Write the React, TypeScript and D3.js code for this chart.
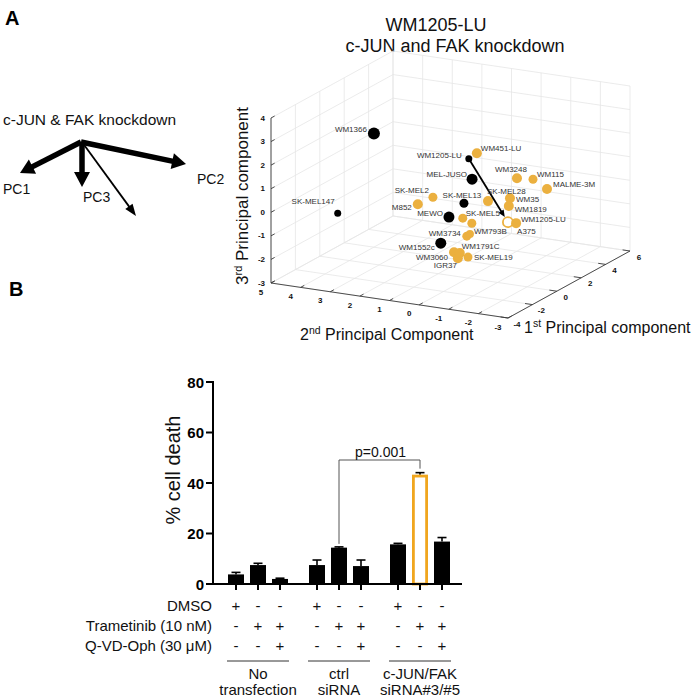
import React from "react";
import * as d3 from "d3";

// ---------------- Panel A data (PCA scores) ----------------
const cellLines = [
  "WM1366", "SK-MEL147", "WM1205-LU", "MEL-JUSO", "SK-MEL2", "M852", "MEWO",
  "SK-MEL13", "WM451-LU", "WM3248", "WM115", "MALME-3M", "SK-MEL28", "WM35",
  "WM1819", "WM1205-LU", "A375", "SK-MEL5", "", "WM3734", "WM793B", "WM1552c",
  "WM3060", "IGR37", "WM1791C", "SK-MEL19",
];
const pc1Scores = [-2, -3, 0, 0, -1, -1, 0, 0.5, 1, 3, 4, 5, 1.5, 2.5, 2.5, 2.5, 3, 0.5, 1, 1, 1.5, -0.5, 0, 0, 0.5, 1];
const pc2Scores = [2.35, 3.16, -0.03, -0.14, 0.77, 1.28, 0.64, 0.34, 0.11, -0.42, -0.55, -0.61, -0.06, -0.39, -0.35, -0.32, -0.39, 0.38, 0.28, 0.45, 0.55, 0.71, 0.47, 0.34, 0.48, 0.41];
const pc3Scores = [3.27, 0.02, 2.07, 1.22, 0.57, 0.18, -0.53, -0.03, 1.99, 0.46, 0.16, -0.53, -0.15, -0.25, -0.59, -1.28, -1.45, -0.67, -1.01, -1.59, -1.66, -1.51, -1.99, -2.22, -2.17, -2.47];
const lineGroup = [
  "other", "other", "other", "other", "target", "target", "other",
  "other", "target", "target", "target", "target", "target", "target",
  "target", "knockdown", "target", "target", "target", "target", "target", "other",
  "target", "target", "target", "target",
];
const markerSize = [6, 3.5, 3.5, 5.5, 4.5, 5, 5.5, 4.5, 5, 5, 4.5, 5, 5, 5, 5, 5, 5, 4.5, 4.5, 4.5, 4, 5.5, 5, 5, 5, 4.5];

const pc1Ticks = [-4, -2, 0, 2, 4, 6];
const pc2Ticks = [-3, -2, -1, 0, 1, 2, 3, 4, 5];
const pc3Ticks = [-3, -2, -1, 0, 1, 2, 3, 4];

// ---------------- Panel B data ----------------
const transfections = ["No transfection", "ctrl siRNA", "c-JUN/FAK siRNA#3/#5"];
const treatments = ["DMSO", "Trametinib", "Trametinib + Q-VD-Oph"];
const meanNoTransfection = [3.8, 7.5, 2.0];
const meanCtrl = [7.5, 14.4, 7.1];
const meanKnockdown = [15.7, 43.3, 16.8];
const semNoTransfection = [0.8, 0.7, 0.3];
const semCtrl = [2.0, 0.3, 2.4];
const semKnockdown = [0.4, 0.8, 1.6];
const dmsoSigns = ["+", "-", "-"];
const trametinibSigns = ["-", "+", "+"];
const qvdSigns = ["-", "-", "+"];
const rowLabels = ["DMSO", "Trametinib (10 nM)", "Q-VD-Oph (30 μM)"];
const groupLabelLines = [["No", "transfection"], ["ctrl", "siRNA"], ["c-JUN/FAK", "siRNA#3/#5"]];
const yTicks = [0, 20, 40, 60, 80];
const pValueText = "p=0.001";

// ---------------- layout helpers ----------------
const ORANGE = "#EBB03F";
const BAR_ORANGE = "#F0A61E";
const FONT = "'Liberation Sans', Arial, Helvetica, sans-serif";

const labelLayout: ({ a: "start" | "end" | "middle"; dx: number; dy: number } | null)[] = [
  { a: "end", dx: -7, dy: -4 },
  { a: "end", dx: -3, dy: -12 },
  { a: "end", dx: -7, dy: -3 },
  { a: "end", dx: -5, dy: -5 },
  { a: "end", dx: -4, dy: -7 },
  { a: "end", dx: -6, dy: 3 },
  { a: "end", dx: -6, dy: -4 },
  { a: "middle", dx: -2, dy: -8 },
  { a: "start", dx: 4, dy: -5 },
  { a: "end", dx: 10, dy: -9 },
  { a: "start", dx: 4, dy: -5 },
  { a: "start", dx: 6, dy: -5 },
  { a: "start", dx: -1, dy: -10 },
  { a: "start", dx: 6, dy: 1 },
  { a: "start", dx: 6, dy: 3 },
  { a: "start", dx: 13, dy: -3 },
  { a: "start", dx: 1, dy: 8 },
  { a: "start", dx: 3, dy: -5 },
  null,
  { a: "end", dx: -6, dy: -3 },
  { a: "start", dx: 4, dy: -3 },
  { a: "end", dx: -6, dy: 4 },
  { a: "end", dx: -6, dy: 5 },
  { a: "end", dx: -1, dy: 7 },
  { a: "start", dx: 2, dy: -7 },
  { a: "start", dx: 6, dy: 0 },
];

function arrowShape(x1: number, y1: number, x2: number, y2: number, hl: number, hw: number) {
  const dx = x2 - x1, dy = y2 - y1;
  const L = Math.hypot(dx, dy);
  const ux = dx / L, uy = dy / L;
  const bx = x2 - ux * hl, by = y2 - uy * hl;
  const px = -uy, py = ux;
  return {
    line: [x1, y1, bx + ux * 1, by + uy * 1],
    head: `${x2},${y2} ${bx + (px * hw) / 2},${by + (py * hw) / 2} ${bx - (px * hw) / 2},${by - (py * hw) / 2}`,
  };
}

function Arrow({ x1, y1, x2, y2, w, hl, hw, color = "#000" }: any) {
  const a = arrowShape(x1, y1, x2, y2, hl, hw);
  return (
    <g>
      <line x1={a.line[0]} y1={a.line[1]} x2={a.line[2]} y2={a.line[3]} stroke={color} strokeWidth={w} />
      <polygon points={a.head} fill={color} />
    </g>
  );
}

export default function App() {
  // ---------- 3D projection ----------
  const s1 = d3.scaleLinear().domain([-4, 6]).range([0, 1]);
  const s2 = d3.scaleLinear().domain([-3, 5]).range([0, 1]);
  const s3 = d3.scaleLinear().domain([-3, 4]).range([0, 1]);
  const origin = [508, 318];
  const v1 = [122, -67];
  const v2 = [-237, -35];
  const v3 = [0, -165];
  const project = (a: number, b: number, c: number): [number, number] => {
    const t1 = s1(a), t2 = s2(b), t3 = s3(c);
    return [
      origin[0] + t1 * v1[0] + t2 * v2[0] + t3 * v3[0],
      origin[1] + t1 * v1[1] + t2 * v2[1] + t3 * v3[1],
    ];
  };
  const grid: [number, number, number, number][] = [];
  const seg = (p: [number, number], q: [number, number]) => grid.push([p[0], p[1], q[0], q[1]]);
  pc1Ticks.forEach((t) => seg(project(t, -3, -3), project(t, 5, -3)));
  pc2Ticks.forEach((t) => seg(project(-4, t, -3), project(6, t, -3)));
  pc1Ticks.forEach((t) => seg(project(t, 5, -3), project(t, 5, 4)));
  pc3Ticks.forEach((z) => seg(project(-4, 5, z), project(6, 5, z)));
  pc2Ticks.forEach((t) => seg(project(6, t, -3), project(6, t, 4)));
  pc3Ticks.forEach((z) => seg(project(6, -3, z), project(6, 5, z)));

  const pts = cellLines.map((name, i) => {
    const [x, y] = project(pc1Scores[i], pc2Scores[i], pc3Scores[i]);
    return { name, x, y, g: lineGroup[i], r: markerSize[i], lab: labelLayout[i] };
  });
  const from = pts[2];
  const to = pts[15];
  const ang = Math.atan2(to.y - from.y, to.x - from.x);
  const toX = to.x - Math.cos(ang) * (to.r + 1);
  const toY = to.y - Math.sin(ang) * (to.r + 1);

  const axisA = project(-4, -3, -3);
  const axisL = project(-4, 5, -3);
  const axisR = project(6, -3, -3);
  const axisT = project(-4, 5, 4);

  // ---------- Bar chart ----------
  const means = [meanNoTransfection, meanCtrl, meanKnockdown];
  const sems = [semNoTransfection, semCtrl, semKnockdown];
  const x0 = d3.scaleBand().domain(transfections).range([217.5, 460.5]);
  const x1 = d3.scaleBand().domain(treatments).range([10.5, 70.5]).paddingInner(6 / 22);
  const y = d3.scaleLinear().domain([0, 80]).range([584, 382]);
  const bw = x1.bandwidth();
  const cx = (g: number, t: number) => (x0(transfections[g]) as number) + (x1(treatments[t]) as number) + bw / 2;

  const leftX = cx(1, 1);
  const rightX = cx(2, 1);
  const bracketY = 460;

  const signRows = [dmsoSigns, trametinibSigns, qvdSigns];
  const rowY = [611, 631, 651];

  return (
    <svg width={700} height={698} style={{ position: "absolute", left: 0, top: 0, background: "#fff" }} fontFamily={FONT}>
      <rect width={700} height={698} fill="#fff" />
      {/* Panel letters */}
      <text x={5} y={25} fontSize={20} fontWeight="bold">A</text>
      <text x={9} y={296} fontSize={20} fontWeight="bold">B</text>

      {/* Left schematic */}
      <text x={3} y={125} fontSize={15.5} fill="#111">c-JUN &amp; FAK knockdown</text>
      <Arrow x1={81} y1={142} x2={20} y2={173} w={5.5} hl={14} hw={16} />
      <Arrow x1={81} y1={142} x2={186} y2={164} w={5.5} hl={14} hw={16} />
      <Arrow x1={82} y1={142} x2={82} y2={187} w={5.5} hl={15} hw={16} />
      <Arrow x1={82} y1={142} x2={136} y2={216} w={1.8} hl={12} hw={9} />
      <text x={3} y={194} fontSize={14} fill="#111">PC1</text>
      <text x={197} y={184} fontSize={14} fill="#111">PC2</text>
      <text x={83} y={202} fontSize={14} fill="#111">PC3</text>

      {/* 3D title */}
      <text x={436} y={31} fontSize={18} textAnchor="middle" fill="#111">WM1205-LU</text>
      <text x={455} y={52} fontSize={18} textAnchor="middle" fill="#111">c-JUN and FAK knockdown</text>

      {/* grid */}
      <g stroke="#e6e6e6" strokeWidth={0.8}>
        {grid.map((g, i) => (
          <line key={i} x1={g[0]} y1={g[1]} x2={g[2]} y2={g[3]} />
        ))}
      </g>
      {/* axes */}
      <g stroke="#3a3a3a" strokeWidth={0.9}>
        <line x1={axisA[0]} y1={axisA[1]} x2={axisL[0]} y2={axisL[1]} />
        <line x1={axisA[0]} y1={axisA[1]} x2={axisR[0]} y2={axisR[1]} />
        <line x1={axisL[0]} y1={axisL[1]} x2={axisT[0]} y2={axisT[1]} />
        {pc2Ticks.map((t) => {
          const p = project(-4, t, -3);
          const q = project(-3.7, t, -3);
          return <line key={"t2" + t} x1={p[0]} y1={p[1]} x2={q[0]} y2={q[1]} />;
        })}
        {pc1Ticks.map((t) => {
          const p = project(t, -3, -3);
          const q = project(t, -2.75, -3);
          return <line key={"t1" + t} x1={p[0]} y1={p[1]} x2={q[0]} y2={q[1]} />;
        })}
        {pc3Ticks.map((t) => {
          const p = project(-4, 5, t);
          const q = project(-3.7, 5, t);
          return <line key={"t3" + t} x1={p[0]} y1={p[1]} x2={q[0]} y2={q[1]} />;
        })}
      </g>
      <g fontSize={8} fill="#111" fontWeight="bold">
        {pc2Ticks.map((t) => {
          const p = project(-4, t, -3);
          return (
            <text key={"l2" + t} x={p[0] - 10} y={p[1] + 9} textAnchor="middle" dominantBaseline="central">{t}</text>
          );
        })}
        {pc1Ticks.map((t) => {
          const p = project(t, -3, -3);
          return (
            <text key={"l1" + t} x={p[0] + 9} y={p[1] + 6} textAnchor="middle" dominantBaseline="central">{t}</text>
          );
        })}
        {pc3Ticks.map((t) => {
          const p = project(-4, 5, t);
          return (
            <text key={"l3" + t} x={p[0] - 6} y={p[1]} textAnchor="end" dominantBaseline="central">{t}</text>
          );
        })}
      </g>

      {/* points */}
      {pts.map((p, i) => (
        <circle
          key={"p" + i}
          cx={p.x}
          cy={p.y}
          r={p.r}
          fill={p.g === "other" ? "#000" : p.g === "target" ? ORANGE : "#fff"}
          stroke={p.g === "knockdown" ? ORANGE : "none"}
          strokeWidth={p.g === "knockdown" ? 1.8 : 0}
        />
      ))}
      <Arrow x1={from.x} y1={from.y} x2={toX} y2={toY} w={1.8} hl={7} hw={6} />
      <g fontSize={8} fill="#333">
        {pts.map((p, i) =>
          p.lab ? (
            <text key={"lab" + i} x={p.x + p.lab.dx} y={p.y + p.lab.dy} textAnchor={p.lab.a} dominantBaseline="central">
              {p.name}
            </text>
          ) : null
        )}
      </g>

      {/* 3D axis labels */}
      <text transform="translate(248,196) rotate(-90)" fontSize={17} textAnchor="middle" fill="#111">
        3<tspan fontSize={11} dy={-6}>rd</tspan>
        <tspan dy={6}> Principal component</tspan>
      </text>
      <text x={300} y={340} fontSize={16} fill="#111">
        2<tspan fontSize={10.5} dy={-6}>nd</tspan>
        <tspan dy={6}> Principal Component</tspan>
      </text>
      <text x={524} y={333} fontSize={16} fill="#111">
        1<tspan fontSize={10.5} dy={-6}>st</tspan>
        <tspan dy={6}> Principal component</tspan>
      </text>

      {/* ---------- Panel B ---------- */}
      <text transform="translate(180,470) rotate(-90)" fontSize={20} textAnchor="middle" fill="#111">% cell death</text>
      <line x1={213} y1={y(80) - 1} x2={213} y2={y(0) + 1} stroke="#000" strokeWidth={2} />
      {yTicks.map((t) => (
        <g key={"yt" + t}>
          <line x1={206} x2={213} y1={y(t)} y2={y(t)} stroke="#000" strokeWidth={2} />
          <text x={204} y={y(t)} textAnchor="end" dominantBaseline="central" fontSize={15} fontWeight="bold">{t}</text>
        </g>
      ))}
      {means.map((row, g) =>
        row.map((m, t) => {
          const c = cx(g, t);
          const isHighlight = g === 2 && t === 1;
          const top = y(m);
          const errTop = y(m + sems[g][t]);
          return (
            <g key={`b${g}${t}`}>
              <line x1={c} x2={c} y1={top} y2={errTop} stroke="#000" strokeWidth={1.6} />
              <line x1={c - 4.5} x2={c + 4.5} y1={errTop} y2={errTop} stroke="#000" strokeWidth={1.6} />
              {isHighlight ? (
                <rect x={c - bw / 2 + 1.4} y={top + 1.4} width={bw - 2.8} height={y(0) - top - 1.4} fill="#fff" stroke={BAR_ORANGE} strokeWidth={2.8} />
              ) : (
                <rect x={c - bw / 2} y={top} width={bw} height={y(0) - top} fill="#000" />
              )}
              <line x1={c} x2={c} y1={y(0)} y2={y(0) + 6} stroke="#000" strokeWidth={2} />
            </g>
          );
        })
      )}
      <line x1={212} x2={462} y1={y(0)} y2={y(0)} stroke="#000" strokeWidth={2} />

      {/* significance bracket */}
      <path
        d={`M${leftX},${y(meanCtrl[1] + semCtrl[1]) - 3} V${bracketY} H${rightX} V${y(meanKnockdown[1] + semKnockdown[1]) - 4}`}
        fill="none"
        stroke="#555"
        strokeWidth={1}
      />
      <text x={(leftX + rightX) / 2 + 1} y={bracketY - 3} textAnchor="middle" fontSize={14} fill="#111">{pValueText}</text>

      {/* treatment table */}
      {rowLabels.map((l, r) => (
        <text key={"rl" + r} x={212} y={rowY[r]} textAnchor="end" fontSize={15} fill="#111">{l}</text>
      ))}
      {signRows.map((row, r) =>
        transfections.map((_, g) =>
          row.map((s, t) => (
            <text key={`s${r}${g}${t}`} x={cx(g, t)} y={rowY[r]} textAnchor="middle" fontSize={15} fill="#111">
              {s}
            </text>
          ))
        )
      )}
      {transfections.map((tr, g) => {
        const a = cx(g, 0) - bw / 2;
        const b = cx(g, 2) + bw / 2;
        const m = (a + b) / 2;
        return (
          <g key={"grp" + g}>
            <line x1={a - 1} x2={b + 1} y1={661} y2={661} stroke="#333" strokeWidth={1} />
            <text x={m} y={679} textAnchor="middle" fontSize={15} fill="#111">{groupLabelLines[g][0]}</text>
            <text x={m} y={695} textAnchor="middle" fontSize={15} fill="#111">{groupLabelLines[g][1]}</text>
          </g>
        );
      })}
    </svg>
  );
}
